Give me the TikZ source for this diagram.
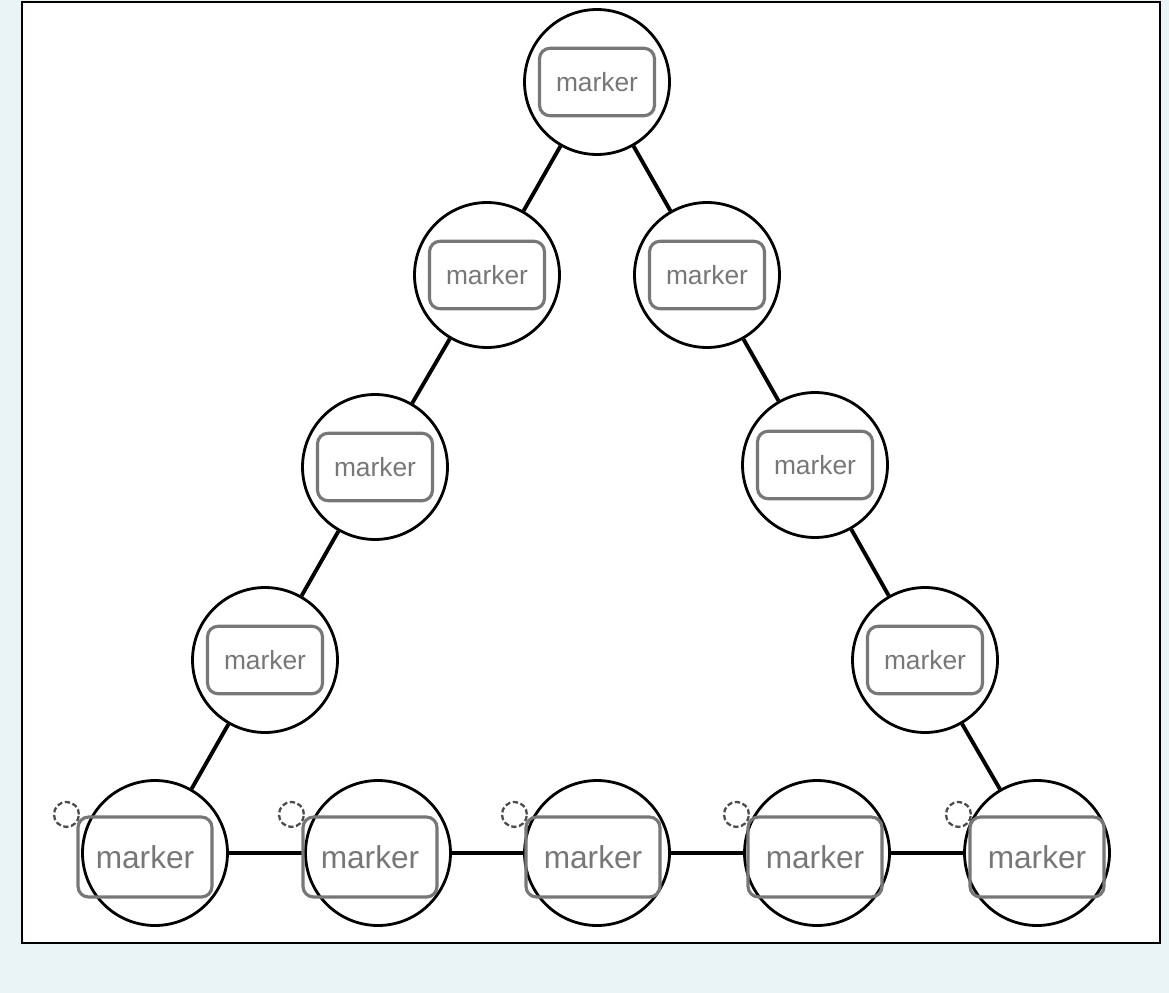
\documentclass[tikz,border=0pt]{standalone}
\usepackage{fontspec}
\setmainfont{Liberation Sans}
\definecolor{fond}{HTML}{EAF4F6}
\definecolor{gris}{HTML}{777777}
\usetikzlibrary{positioning}
\tikzset{
  rond/.style={circle,minimum size=2.9cm,draw=black,line width=1.6pt,fill=white},
  boite/.style={rounded corners=6pt,draw=gris,line width=1.8pt,text=gris,
    minimum width=2.3cm,minimum height=1.35cm,font=\fontsize{15}{15}\selectfont},
  grande/.style={boite,minimum width=2.68cm,minimum height=1.6cm,
    font=\fontsize{18}{18}\selectfont},
  poignee/.style={circle,minimum size=0.5cm,draw=black!70,dash pattern=on 3pt off 1.5pt,
    line width=1.3pt,inner sep=0pt},
  lien/.style={line width=2.2pt}
}
\begin{document}
\begin{tikzpicture}[x=0.02cm,y=-0.02cm]
  \fill[fond] (0,0) rectangle (1169,993);
  \draw[fill=white,line width=1pt] (22,2) rectangle (1160,943);

  \coordinate (T) at (597,82);
  \coordinate (L1) at (487,275);
  \coordinate (R1) at (707,275);
  \coordinate (L2) at (375,467);
  \coordinate (R2) at (815,465);
  \coordinate (L3) at (265,660);
  \coordinate (R3) at (925,660);

  % sommets
  \foreach \p in {T,L1,R1,L2,R2,L3,R3}
    \node[rond] at (\p) (c\p) {};
  \foreach \i/\x in {1/155,2/378,3/597,4/817,5/1037}
    \node[rond] at (\x,853) (cB\i) {};

  % liens
  \draw[lien] (cT) -- (cL1) (cL1) -- (cL2) (cL2) -- (cL3) (cL3) -- (cB1);
  \draw[lien] (cT) -- (cR1) (cR1) -- (cR2) (cR2) -- (cR3) (cR3) -- (cB5);
  \foreach \i/\j in {1/2,2/3,3/4,4/5}
    \draw[lien] (cB\i) -- (cB\j);

  % etiquettes
  \foreach \p in {T,L1,R1,L2,R2,L3,R3}
    \node[boite] at (\p) (m\p) {marker};
  \foreach \i/\x in {1/145,2/370,3/593,4/815,5/1037}
  {
    \node[grande] at (\x,857) (mB\i) {marker};
    \node[poignee] at ([xshift=-0.2cm,yshift=0.02cm]mB\i.north west) (h\i) {};
  }
\end{tikzpicture}
\end{document}
